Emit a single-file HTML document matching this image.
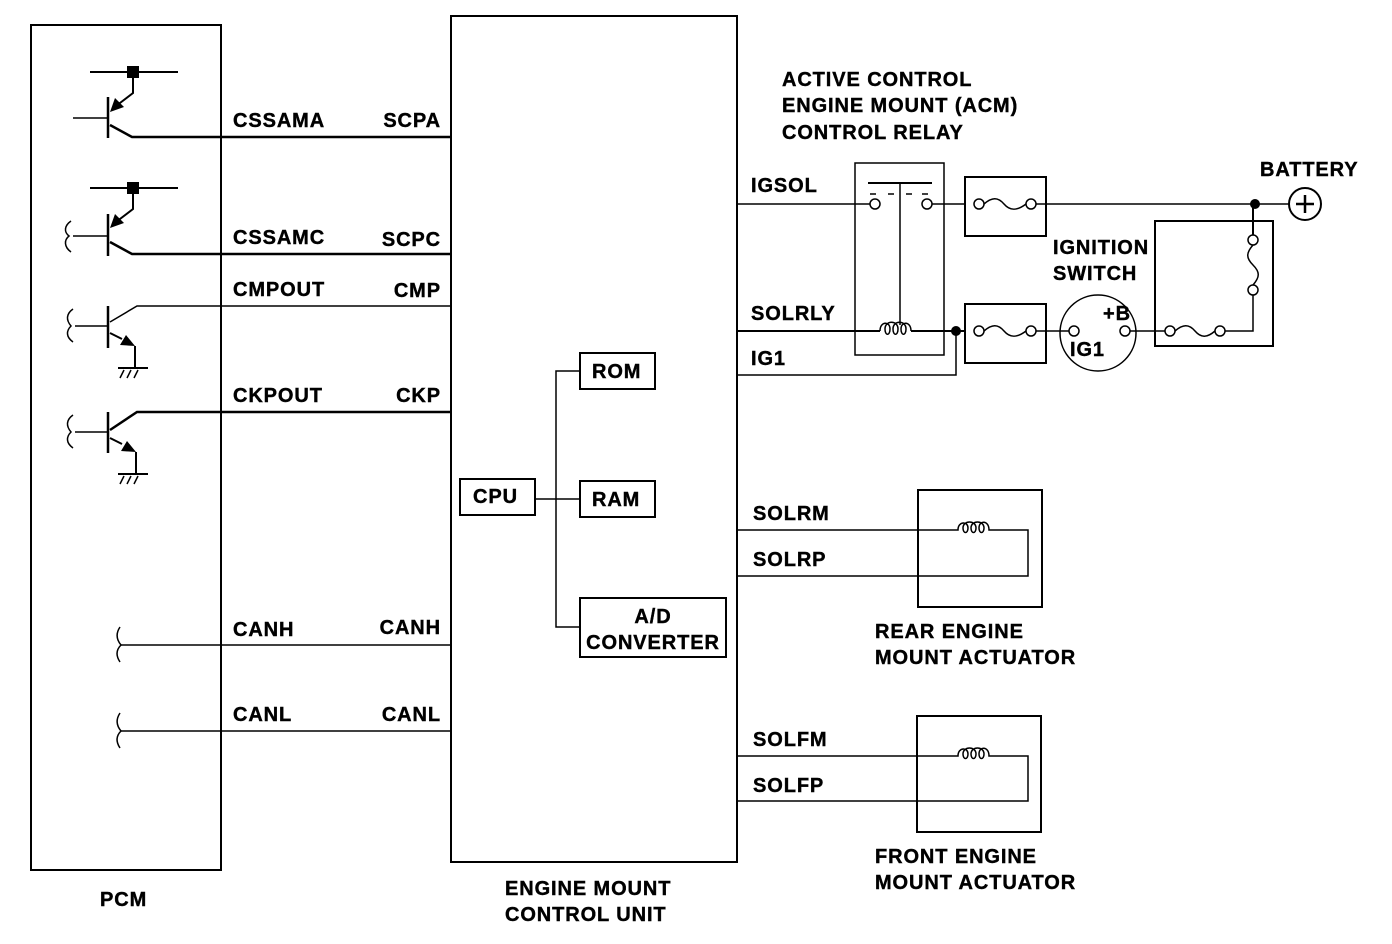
<!DOCTYPE html>
<html><head><meta charset="utf-8"><style>
html,body{margin:0;padding:0;background:#fff}
svg{display:block}
text{font-family:"Liberation Sans",Arial,sans-serif;font-weight:bold;font-size:20px;letter-spacing:0.9px;fill:#000;stroke:#000;stroke-width:0.4px}
</style></head><body>
<svg width="1392" height="944" viewBox="0 0 1392 944" xmlns="http://www.w3.org/2000/svg">
<g fill="none" stroke="#000" stroke-width="2">
<rect x="31" y="25" width="190" height="845"/>
<rect x="451" y="16" width="286" height="846"/>
<line x1="90" y1="72" x2="178" y2="72"/>
<line x1="108" y1="97" x2="108" y2="138" stroke-width="2.5"/>
<line x1="73" y1="118" x2="108" y2="118" stroke-width="1.5"/>
<polyline points="133,78 133,93 116,106"/>
<polyline points="110,125 132,137 451,137" stroke-width="2.5"/>
<line x1="90" y1="188" x2="178" y2="188"/>
<line x1="108" y1="214" x2="108" y2="256" stroke-width="2.5"/>
<line x1="73" y1="236" x2="108" y2="236" stroke-width="1.5"/>
<polyline points="133,194 133,209 116,222"/>
<polyline points="110,242 132,254 451,254" stroke-width="2.5"/>
<path d="M71,221 C64,226 64,232 69,236 C64,240 64,247 71,252" stroke-width="1.5"/>
<line x1="108" y1="306" x2="108" y2="348" stroke-width="2.5"/>
<line x1="75" y1="326" x2="108" y2="326" stroke-width="1.5"/>
<polyline points="110,322 137,306 451,306" stroke-width="1.5"/>
<polyline points="110,333 122,339"/>
<line x1="135" y1="346" x2="135" y2="368"/>
<line x1="118" y1="368" x2="148" y2="368"/>
<path d="M73,309 C66,314 66,320 71,326 C66,331 66,337 73,342" stroke-width="1.5"/>
<path d="M124,370 l-4,8 M131,370 l-4,8 M138,370 l-4,8" stroke-width="1.5"/>
<line x1="108" y1="412" x2="108" y2="453" stroke-width="2.5"/>
<line x1="75" y1="432" x2="108" y2="432" stroke-width="1.5"/>
<polyline points="110,430 137,412 451,412" stroke-width="2.5"/>
<polyline points="110,438 122,444"/>
<line x1="136" y1="452" x2="136" y2="474"/>
<line x1="118" y1="474" x2="148" y2="474"/>
<path d="M73,415 C66,420 66,426 71,432 C66,437 66,443 73,448" stroke-width="1.5"/>
<path d="M124,476 l-4,8 M131,476 l-4,8 M138,476 l-4,8" stroke-width="1.5"/>
<path d="M120,627 C116,633 116,639 121,645 C116,650 116,656 120,662" stroke-width="1.5"/>
<line x1="121" y1="645" x2="451" y2="645" stroke-width="1.5"/>
<path d="M120,713 C116,719 116,725 121,731 C116,736 116,742 120,748" stroke-width="1.5"/>
<line x1="121" y1="731" x2="451" y2="731" stroke-width="1.5"/>
<rect x="460" y="479" width="75" height="36"/>
<rect x="580" y="353" width="75" height="36"/>
<rect x="580" y="481" width="75" height="36"/>
<rect x="580" y="598" width="146" height="59"/>
<polyline points="580,371 556,371 556,627 580,627" stroke-width="1.5"/>
<line x1="535" y1="499" x2="580" y2="499" stroke-width="1.5"/>
<rect x="855" y="163" width="89" height="192" stroke-width="1.5"/>
<line x1="737" y1="204" x2="870" y2="204" stroke-width="1.5"/>
<line x1="868" y1="183" x2="932" y2="183"/>
<path d="M870,194 h6 M888,194 h6 M906,194 h6 M922,194 h6" stroke-width="1.5"/>
<line x1="900" y1="183" x2="900" y2="325" stroke-width="1.5"/>
<circle cx="875" cy="204" r="5" stroke-width="1.5"/>
<circle cx="927" cy="204" r="5" stroke-width="1.5"/>
<line x1="932" y1="204" x2="965" y2="204" stroke-width="1.5"/>
<line x1="737" y1="331" x2="880" y2="331"/>
<path d="M880,331 c0,-10 10,-10 10,-2 c0,7 -5,7 -5,0 c0,-9 13,-9 13,0 c0,7 -5,7 -5,0 c0,-9 13,-9 13,0 c0,7 -5,7 -5,0 c0,-8 10,-8 10,2" stroke-width="1.5"/>
<line x1="911" y1="331" x2="965" y2="331"/>
<polyline points="737,375 956,375 956,331" stroke-width="1.5"/>
<rect x="965" y="177" width="81" height="59"/>
<circle cx="979" cy="204" r="5" stroke-width="1.5"/>
<circle cx="1031" cy="204" r="5" stroke-width="1.5"/>
<path d="M984,204 c8,-7 14,-7 20,0 c6,7 13,7 22,0" stroke-width="1.5"/>
<line x1="1036" y1="204" x2="1289" y2="204" stroke-width="1.5"/>
<rect x="965" y="304" width="81" height="59"/>
<circle cx="979" cy="331" r="5" stroke-width="1.5"/>
<circle cx="1031" cy="331" r="5" stroke-width="1.5"/>
<path d="M984,331 c8,-7 14,-7 20,0 c6,7 13,7 22,0" stroke-width="1.5"/>
<line x1="1036" y1="331" x2="1069" y2="331" stroke-width="1.5"/>
<circle cx="1098" cy="333" r="38" stroke-width="1.5"/>
<circle cx="1074" cy="331" r="5" stroke-width="1.5"/>
<circle cx="1125" cy="331" r="5" stroke-width="1.5"/>
<line x1="1130" y1="331" x2="1165" y2="331" stroke-width="1.5"/>
<rect x="1155" y="221" width="118" height="125"/>
<circle cx="1170" cy="331" r="5" stroke-width="1.5"/>
<circle cx="1220" cy="331" r="5" stroke-width="1.5"/>
<path d="M1175,331 c8,-7 14,-7 20,0 c6,7 12,7 20,0" stroke-width="1.5"/>
<polyline points="1225,331 1253,331 1253,295" stroke-width="1.5"/>
<circle cx="1253" cy="290" r="5" stroke-width="1.5"/>
<circle cx="1253" cy="240" r="5" stroke-width="1.5"/>
<path d="M1253,245 c-7,8 -7,13 0,20 c7,7 7,12 0,20" stroke-width="1.5"/>
<line x1="1253" y1="235" x2="1253" y2="204" stroke-width="2"/>
<circle cx="1305" cy="204" r="16" stroke-width="2"/>
<path d="M1296,204 h18 M1305,195 v18" stroke-width="2.5"/>
<rect x="918" y="490" width="124" height="117"/>
<path d="M737,530 H958 c0,-9 10,-9 10,-2 c0,6 -5,6 -5,0 c0,-8 13,-8 13,0 c0,6 -5,6 -5,0 c0,-8 13,-8 13,0 c0,6 -5,6 -5,0 c0,-8 10,-8 10,2 H1028 V576 H737" stroke-width="1.5"/>
<rect x="917" y="716" width="124" height="116"/>
<path d="M737,756 H958 c0,-9 10,-9 10,-2 c0,6 -5,6 -5,0 c0,-8 13,-8 13,0 c0,6 -5,6 -5,0 c0,-8 13,-8 13,0 c0,6 -5,6 -5,0 c0,-8 10,-8 10,2 H1028 V801 H737" stroke-width="1.5"/>
</g>
<g fill="#000">
<rect x="127" y="66" width="12" height="12"/>
<rect x="127" y="182" width="12" height="12"/>
<path d="M110,112 l5,-14 l9,9 z"/>
<path d="M110,228 l5,-14 l9,9 z"/>
<path d="M135,346 l-15,-1 l6,-10 z"/>
<path d="M136,452 l-15,-1 l6,-10 z"/>
<circle cx="956" cy="331" r="5"/>
<circle cx="1255" cy="204" r="5"/>
</g>
<text x="233" y="127">CSSAMA</text>
<text x="441" y="127" text-anchor="end">SCPA</text>
<text x="233" y="244">CSSAMC</text>
<text x="441" y="246" text-anchor="end">SCPC</text>
<text x="233" y="296">CMPOUT</text>
<text x="441" y="297" text-anchor="end">CMP</text>
<text x="233" y="402">CKPOUT</text>
<text x="441" y="402" text-anchor="end">CKP</text>
<text x="233" y="636">CANH</text>
<text x="441" y="634" text-anchor="end">CANH</text>
<text x="233" y="721">CANL</text>
<text x="441" y="721" text-anchor="end">CANL</text>
<text x="100" y="906">PCM</text>
<text x="505" y="895">ENGINE MOUNT</text>
<text x="505" y="921">CONTROL UNIT</text>
<text x="473" y="503">CPU</text>
<text x="592" y="378">ROM</text>
<text x="592" y="506">RAM</text>
<text x="653" y="623" text-anchor="middle">A/D</text>
<text x="653" y="649" text-anchor="middle">CONVERTER</text>
<text x="782" y="86">ACTIVE CONTROL</text>
<text x="782" y="112">ENGINE MOUNT (ACM)</text>
<text x="782" y="139">CONTROL RELAY</text>
<text x="751" y="192">IGSOL</text>
<text x="751" y="320">SOLRLY</text>
<text x="751" y="365">IG1</text>
<text x="1260" y="176">BATTERY</text>
<text x="1053" y="254">IGNITION</text>
<text x="1053" y="280">SWITCH</text>
<text x="1103" y="320">+B</text>
<text x="1070" y="356">IG1</text>
<text x="753" y="520">SOLRM</text>
<text x="753" y="566">SOLRP</text>
<text x="875" y="638">REAR  ENGINE</text>
<text x="875" y="664">MOUNT ACTUATOR</text>
<text x="753" y="746">SOLFM</text>
<text x="753" y="792">SOLFP</text>
<text x="875" y="863">FRONT ENGINE</text>
<text x="875" y="889">MOUNT ACTUATOR</text>
</svg>
</body></html>
